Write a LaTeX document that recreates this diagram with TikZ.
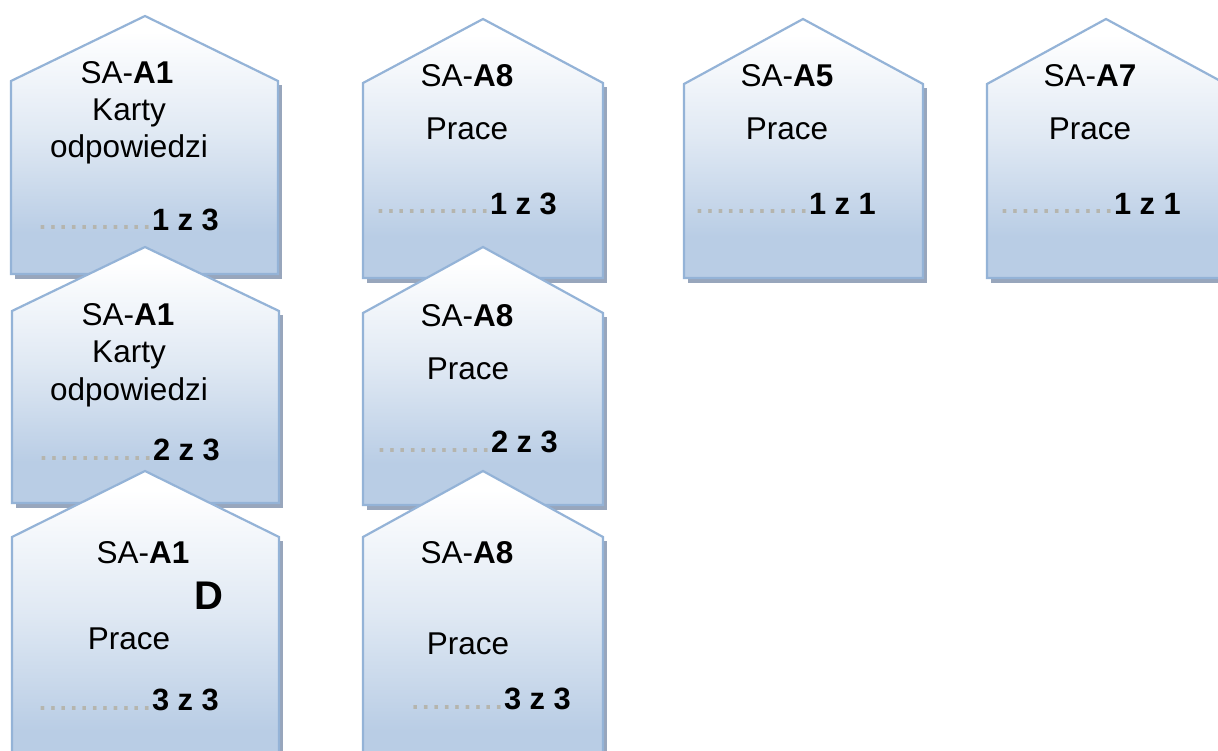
\documentclass[tikz,border=0pt]{standalone}
\usepackage{fontspec}
\setmainfont{Liberation Sans}
\definecolor{edgeblue}{HTML}{94B3D7}
\definecolor{shadowgrey}{HTML}{98A6BC}
\definecolor{fillbottom}{HTML}{B9CDE5}
\definecolor{dotgrey}{HTML}{B5B5AE}
\pgfdeclareverticalshading{houseshade}{100bp}{color(0bp)=(fillbottom); color(33bp)=(fillbottom); color(52bp)=(fillbottom!45!white); color(72bp)=(white); color(100bp)=(white)}
\tikzset{
  houseshape/.style={draw=edgeblue,line width=2.2pt,line join=miter,shading=houseshade},
  houseshadow/.style={fill=shadowgrey,draw=none},
  lbl/.style={anchor=base,inner sep=0pt,outer sep=0pt,yshift=-0.8pt,font=\fontsize{31.5}{33}\selectfont,text=black},
  cnt/.style={anchor=base west,inner sep=0pt,outer sep=0pt,yshift=-0.8pt,font=\fontsize{30.8}{33}\selectfont\bfseries,text=black},
  dots/.style={anchor=base east,inner sep=0pt,outer sep=0pt,font=\fontsize{37.5}{38}\selectfont,text=dotgrey}
}
% #1 left, #2 right, #3 apex x, #4 apex y, #5 shoulder y, #6 bottom y
\newcommand{\houseat}[6]{%
  \fill[houseshadow] (#1+4,#5+4) -- (#2+3.5,#5+4) -- (#2+3.5,#6+5) -- (#1+4,#6+5) -- cycle;
  \path[houseshape] (#3,#4) -- (#2,#5) -- (#2,#6) -- (#1,#6) -- (#1,#5) -- cycle;
}
\begin{document}
\begin{tikzpicture}[x=1pt,y=-1pt]
\useasboundingbox (0,0) rectangle (1218,751);
\fill[white] (0,0) rectangle (1218,751);
\houseat{11}{278}{145}{16}{81}{274}
\houseat{363}{603}{483}{19}{83}{278}
\houseat{684}{923}{803}{19}{84}{278}
\houseat{987}{1226}{1106}{19}{84}{278}
\houseat{12}{279}{145}{247}{311}{503}
\houseat{363}{603}{483}{247}{313}{505}
\houseat{12}{279}{145}{471}{537}{780}
\houseat{363}{603}{483}{471}{537}{780}
\node[lbl] (a1t) at (127,83) {SA-\textbf{A1}};
\node[lbl] (a1k) at (129,120) {Karty};
\node[lbl] (a1o) at (129,157) {odpowiedzi};
\node[dots] (a1d) at (152,230) {...........};
\node[cnt] (a1c) at (152,230) {1 z 3};
\node[lbl] (a8t) at (467,86) {SA-\textbf{A8}};
\node[lbl] (a8p) at (467,139) {Prace};
\node[dots] (a8d) at (490,214) {...........};
\node[cnt] (a8c) at (490,214) {1 z 3};
\node[lbl] (a5t) at (787,86) {SA-\textbf{A5}};
\node[lbl] (a5p) at (787,139) {Prace};
\node[dots] (a5d) at (809,214) {...........};
\node[cnt] (a5c) at (809,214) {1 z 1};
\node[lbl] (a7t) at (1090,86) {SA-\textbf{A7}};
\node[lbl] (a7p) at (1090,139) {Prace};
\node[dots] (a7d) at (1114,214) {...........};
\node[cnt] (a7c) at (1114,214) {1 z 1};
\node[lbl] (b1t) at (128,325) {SA-\textbf{A1}};
\node[lbl] (b1k) at (129,362) {Karty};
\node[lbl] (b1o) at (129,400) {odpowiedzi};
\node[dots] (b1d) at (153,460) {...........};
\node[cnt] (b1c) at (153,460) {2 z 3};
\node[lbl] (b8t) at (467,326) {SA-\textbf{A8}};
\node[lbl] (b8p) at (468,379) {Prace};
\node[dots] (b8d) at (491,452) {...........};
\node[cnt] (b8c) at (491,452) {2 z 3};
\node[lbl] (c1t) at (143,563) {SA-\textbf{A1}};
\node[anchor=base,inner sep=0pt,font=\fontsize{40}{41}\selectfont\bfseries] (c1D) at (209,609) {D};
\node[lbl] (c1p) at (129,649) {Prace};
\node[dots] (c1d) at (152,710) {...........};
\node[cnt] (c1c) at (152,710) {3 z 3};
\node[lbl] (c8t) at (467,563) {SA-\textbf{A8}};
\node[lbl] (c8p) at (468,654) {Prace};
\node[dots] (c8d) at (504,709) {.........};
\node[cnt] (c8c) at (504,709) {3 z 3};
\end{tikzpicture}
\end{document}
